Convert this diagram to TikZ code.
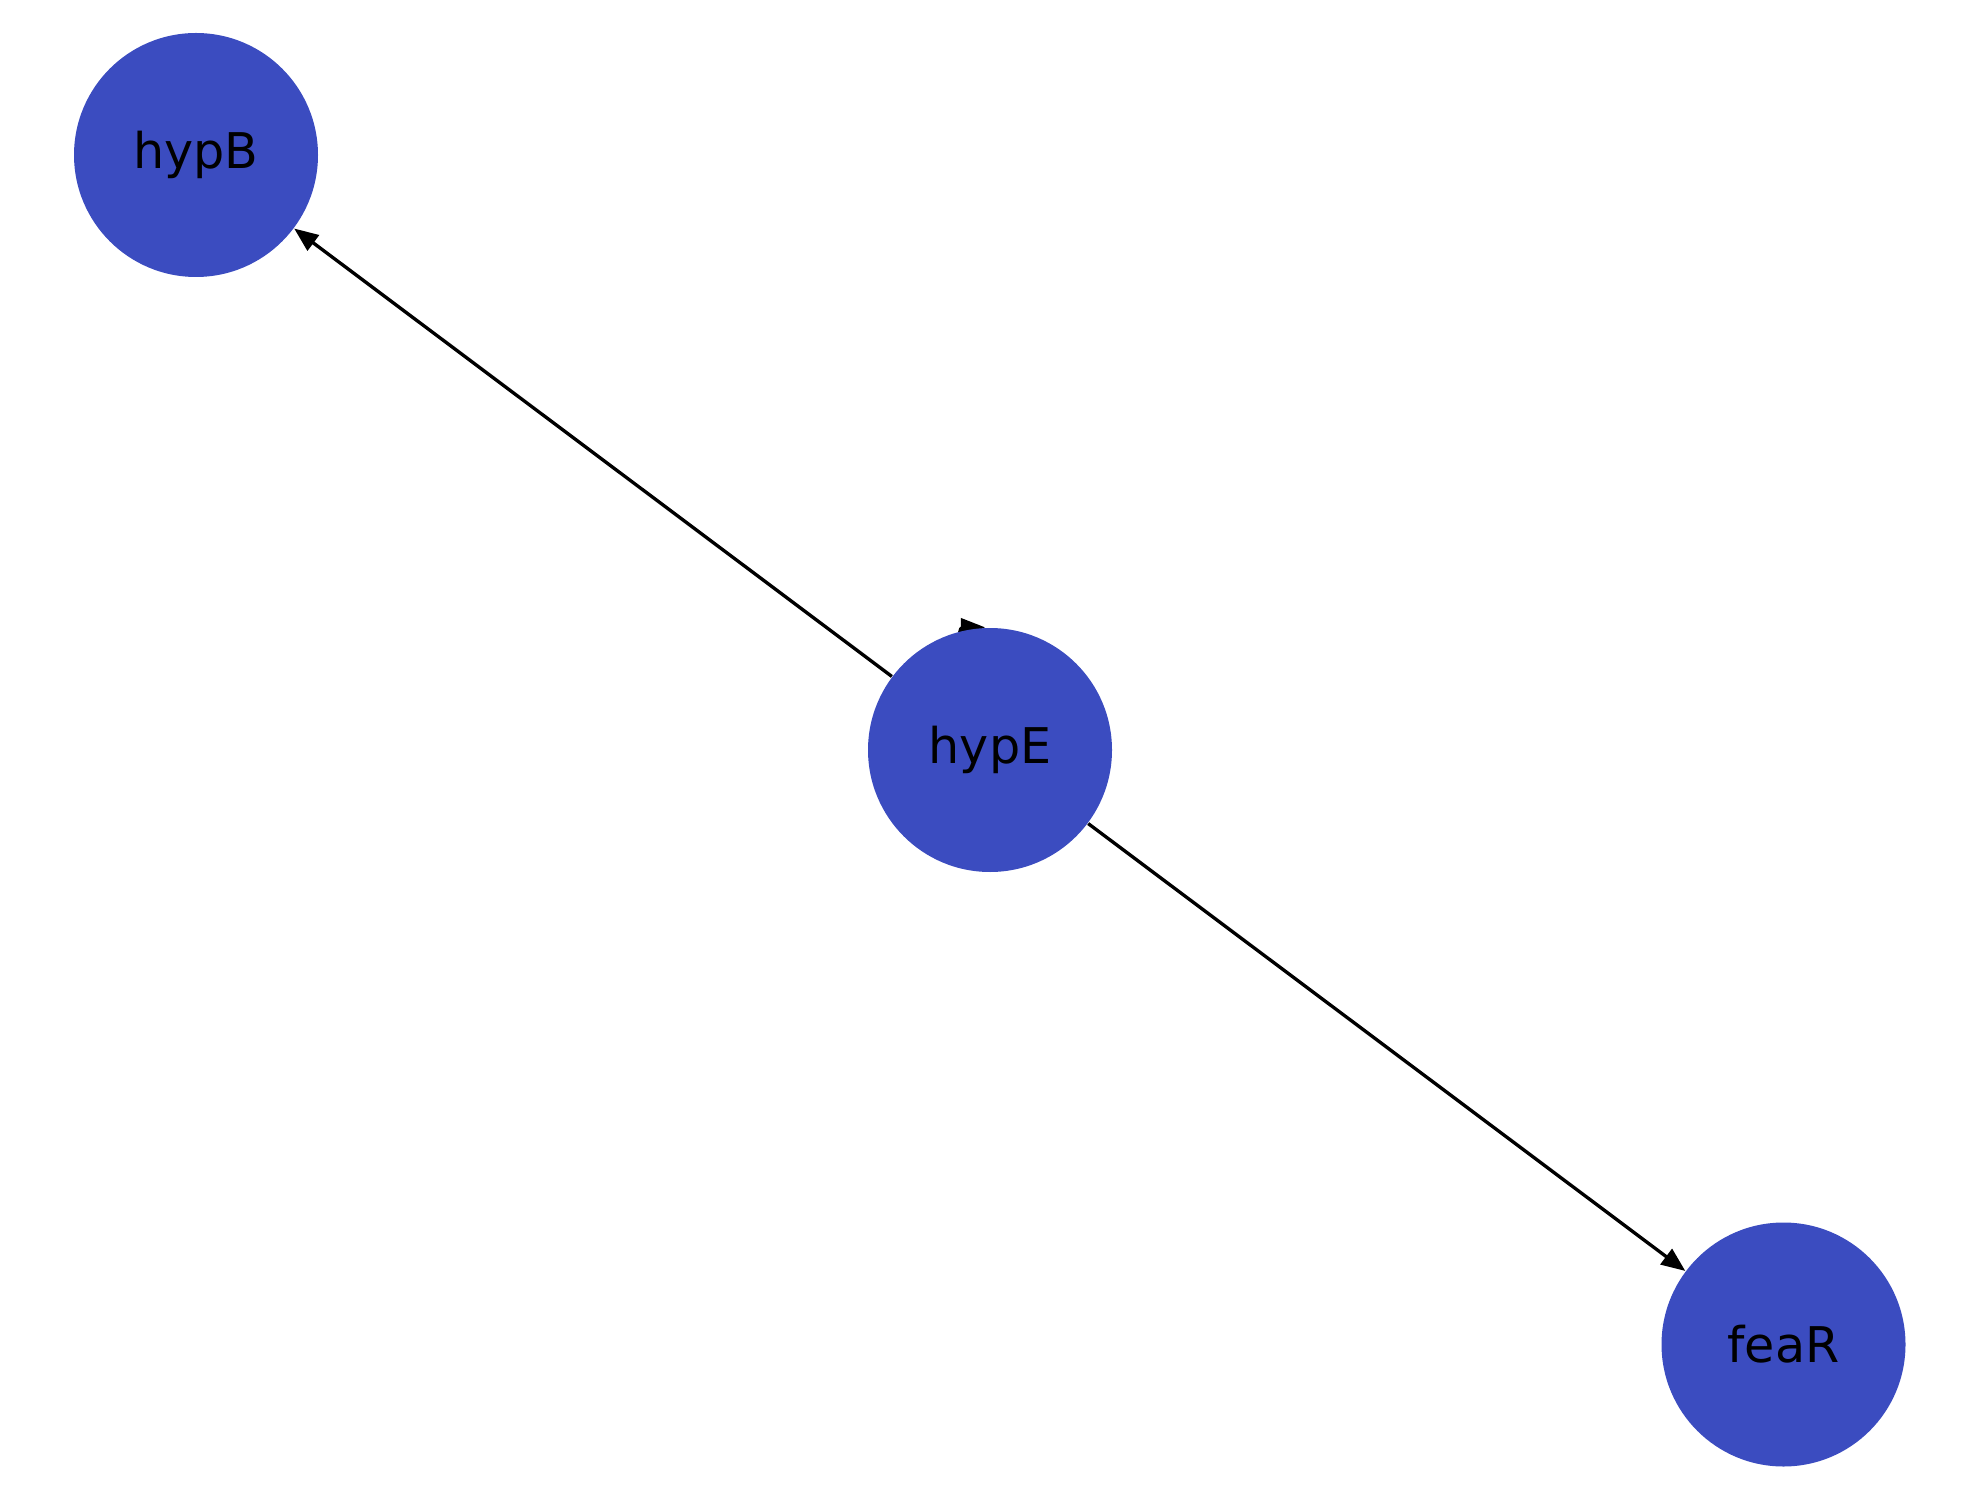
\documentclass[tikz,border=0pt]{standalone}
\usepackage{fontspec}
\setmainfont{DejaVu Sans}
\usetikzlibrary{arrows.meta,backgrounds,calc}
\definecolor{nodeblue}{HTML}{3B4CC0}
\tikzset{
	state/.style={circle, fill=nodeblue, minimum size=2.44cm, inner sep=0pt, font=\fontsize{14}{16}\selectfont},
	edge/.style={line width=0.95pt, -{Triangle[length=0.24cm,width=0.19cm]}}
}
\begin{document}
\begin{tikzpicture}
	\useasboundingbox (0,0) rectangle (19.8,15);
	
	\node[state] (hypB) at (1.96,13.45) {hypB};
	\node[state] (hypE) at (9.9,7.5) {hypE};
	\node[state] (feaR) at (17.835,1.555) {feaR};
	
	\draw[edge] (hypE) -- (hypB);
	\draw[edge] (hypE) -- (feaR);
	
	% self loop, mostly hidden behind the node
	\begin{pgfonlayer}{background}
		\draw[edge] (hypE.center) .. controls (9.6,7.8) and (9.55,8.72) .. ($(hypE.north)+(-0.05,0)$);
	\end{pgfonlayer}
\end{tikzpicture}
\end{document}
